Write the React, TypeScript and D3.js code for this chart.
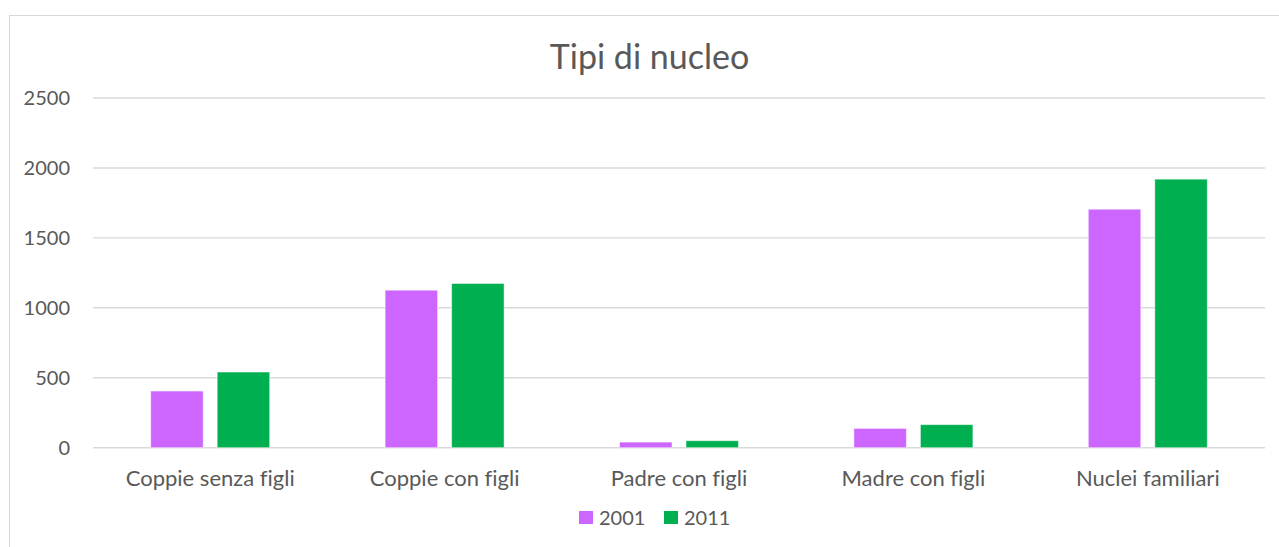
import React from "react";
import * as d3 from "d3";

const categories = ["Coppie senza figli", "Coppie con figli", "Padre con figli", "Madre con figli", "Nuclei familiari"];
const seriesNames = ["2001", "2011"];
const values2001 = [405, 1126, 40, 138, 1705];
const values2011 = [541, 1174, 50, 165, 1920];
const yTicks = [0, 500, 1000, 1500, 2000, 2500];
const colors = ["#CC66FF", "#00B050"];

const W = 1279;
const H = 547;
const FONT = "Lato, 'Open Sans', sans-serif";
const TEXT = "#595959";

export default function App() {
  const left = 93;
  const right = 1265;
  const top = 98;
  const bottom = 447.7;

  const y = d3.scaleLinear().domain([0, 2500]).range([bottom, top]);
  const x0 = d3
    .scaleBand<string>()
    .domain(categories)
    .range([left, right])
    .paddingInner(1 - 119 / 234.4)
    .paddingOuter((1 - 119 / 234.4) / 2);
  const x1 = d3
    .scaleBand<string>()
    .domain(seriesNames)
    .range([0, x0.bandwidth()])
    .paddingInner(14 / 66.5)
    .paddingOuter(0);

  const series = [values2001, values2011];

  return (
    <svg
      width={W}
      height={H}
      style={{ position: "absolute", left: 0, top: 0, background: "#fff", fontVariantLigatures: "none" }}
      fontFamily={FONT}
    >
      <rect x={9.5} y={15.5} width={1300} height={600} fill="#fff" stroke="#d9d9d9" strokeWidth={1} />
      <text x={649.5} y={69} textAnchor="middle" fontSize={34} fill={TEXT}>
        Tipi di nucleo
      </text>
      {yTicks.map((t) => (
        <g key={t}>
          <line x1={left} x2={right} y1={y(t)} y2={y(t)} stroke="#d9d9d9" strokeWidth={1.4} />
          <text x={70} y={y(t)} dy="0.35em" textAnchor="end" fontSize={20} fill={TEXT}>
            {t}
          </text>
        </g>
      ))}
      {categories.map((c, i) => (
        <g key={c} transform={`translate(${x0(c)},0)`}>
          {seriesNames.map((s, j) => {
            const v = series[j][i];
            return (
              <rect
                key={s}
                x={x1(s)}
                y={y(v)}
                width={x1.bandwidth()}
                height={bottom - y(v)}
                fill={colors[j]}
                stroke="#ffffff"
                strokeOpacity={0.5}
                strokeWidth={1}
              />
            );
          })}
          <text x={x0.bandwidth() / 2} y={486} textAnchor="middle" fontSize={22} fill={TEXT}>
            {c}
          </text>
        </g>
      ))}
      {seriesNames.map((s, j) => {
        const lx = [579, 664][j];
        return (
          <g key={s}>
            <rect x={lx} y={511} width={14} height={13} fill={colors[j]} />
            <text x={lx + 20} y={525} fontSize={20} fill={TEXT}>
              {s}
            </text>
          </g>
        );
      })}
    </svg>
  );
}
